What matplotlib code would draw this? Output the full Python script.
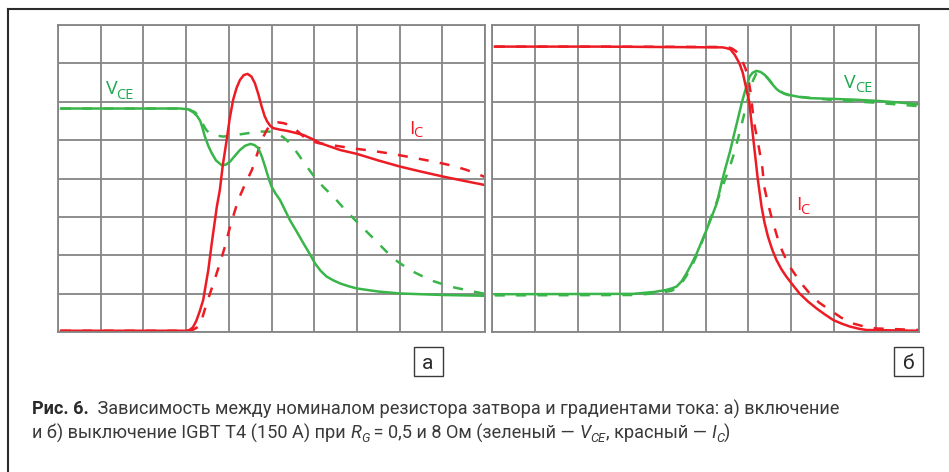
"""Turn-on / turn-off waveforms of IGBT T4 at two gate resistances (Рис. 6)."""

import matplotlib
matplotlib.use("Agg")
import matplotlib.pyplot as plt
from matplotlib.lines import Line2D
from matplotlib.patches import Rectangle

# ---------------------------------------------------------------------------
# Data (grid divisions: x 0..10, y 0..8)
# ---------------------------------------------------------------------------

# а) turn-on
on_ic_x = [0.07, 3.00, 3.08, 3.16, 3.24, 3.32, 3.40, 3.52, 3.60, 3.72, 3.79,
           3.86, 3.95, 4.02, 4.10, 4.18, 4.26, 4.35, 4.44, 4.53, 4.61, 4.69,
           4.77, 4.84, 4.90, 4.97, 5.04, 5.20, 5.36, 5.55, 5.75, 5.95, 6.14,
           6.61, 7.00, 7.50, 8.01, 8.50, 9.02, 9.50, 10.0]
on_ic_y = [0.04, 0.04, 0.06, 0.13, 0.30, 0.55, 0.84, 1.62, 2.31, 3.27, 3.70,
           4.35, 5.00, 5.55, 6.04, 6.35, 6.56, 6.69, 6.72, 6.65, 6.48, 6.20,
           5.87, 5.62, 5.48, 5.37, 5.31, 5.27, 5.24, 5.19, 5.13, 5.03, 4.92,
           4.74, 4.64, 4.47, 4.31, 4.18, 4.05, 3.94, 3.83]

on_ic_slow_x = [0.07, 3.05, 3.15, 3.25, 3.33, 3.48, 3.64, 3.79, 3.91, 4.03,
                4.22, 4.38, 4.54, 4.66, 4.77, 4.87, 4.96, 5.05, 5.15, 5.28,
                5.40, 5.52, 5.62, 5.72, 5.82, 5.95, 6.10, 6.40, 6.69, 7.00,
                7.36, 7.83, 8.37, 8.84, 9.25, 9.55, 9.77, 10.0]
on_ic_slow_y = [0.04, 0.04, 0.06, 0.12, 0.19, 0.75, 1.27, 1.79, 2.23, 2.75,
                3.44, 3.85, 4.22, 4.62, 5.00, 5.22, 5.39, 5.45, 5.46, 5.44,
                5.40, 5.32, 5.22, 5.12, 5.03, 4.97, 4.92, 4.87, 4.82, 4.77,
                4.72, 4.64, 4.53, 4.43, 4.33, 4.23, 4.14, 4.04]

on_vce_x = [0.07, 2.86, 3.05, 3.17, 3.26, 3.33, 3.38, 3.44, 3.52, 3.60, 3.70,
            3.83, 3.93, 4.03, 4.15, 4.26, 4.38, 4.51, 4.60, 4.69, 4.77, 4.85,
            4.92, 5.00, 5.10, 5.20, 5.32, 5.43, 5.60, 5.75, 5.90, 6.02, 6.15,
            6.29, 6.45, 6.61, 6.80, 7.00, 7.50, 8.01, 9.02, 10.0]
on_vce_y = [5.82, 5.82, 5.80, 5.72, 5.62, 5.50, 5.33, 5.09, 4.85, 4.66, 4.47,
            4.35, 4.36, 4.44, 4.60, 4.74, 4.85, 4.90, 4.87, 4.79, 4.58, 4.31,
            4.05, 3.79, 3.60, 3.44, 3.17, 2.92, 2.60, 2.31, 2.03, 1.79, 1.60,
            1.45, 1.35, 1.27, 1.20, 1.14, 1.06, 1.01, 0.97, 0.95]

on_vce_slow_x = [0.07, 2.86, 3.05, 3.20, 3.28, 3.35, 3.46, 3.55, 3.64, 3.87,
                 4.15, 4.46, 4.74, 4.95, 5.12, 5.28, 5.43, 5.58, 5.74, 5.90,
                 6.06, 6.25, 6.45, 6.76, 7.11, 7.46, 7.85, 8.24, 8.71, 9.18,
                 9.73, 10.0]
on_vce_slow_y = [5.82, 5.82, 5.80, 5.73, 5.64, 5.50, 5.28, 5.17, 5.13, 5.09,
                 5.13, 5.18, 5.22, 5.22, 5.18, 5.07, 4.92, 4.70, 4.45, 4.20,
                 3.96, 3.74, 3.53, 3.14, 2.75, 2.36, 1.92, 1.62, 1.36, 1.19,
                 1.06, 1.00]

# б) turn-off
off_ic_x = [0.06, 2.52, 5.40, 5.49, 5.58, 5.68, 5.75, 5.80, 5.87, 5.92, 5.97,
            6.02, 6.12, 6.22, 6.31, 6.38, 6.46, 6.56, 6.66, 6.77, 6.89, 7.05,
            7.20, 7.40, 7.60, 7.80, 7.99, 8.20, 8.38, 8.60, 8.77, 10.0]
off_ic_y = [7.43, 7.43, 7.41, 7.39, 7.36, 7.22, 7.08, 6.97, 6.75, 6.50, 6.25,
            6.00, 5.00, 4.00, 3.27, 2.85, 2.49, 2.15, 1.88, 1.65, 1.45, 1.22,
            1.01, 0.80, 0.62, 0.46, 0.32, 0.22, 0.15, 0.09, 0.06, 0.04]

off_ic_slow_x = [0.06, 2.52, 5.49, 5.60, 5.66, 5.72, 5.78, 5.86, 5.93, 6.00,
                 6.05, 6.13, 6.25, 6.33, 6.37, 6.45, 6.54, 6.62, 6.70, 6.79,
                 6.89, 7.00, 7.13, 7.28, 7.44, 7.65, 7.91, 8.18, 8.45, 8.72,
                 9.00, 10.0]
off_ic_slow_y = [7.43, 7.43, 7.42, 7.39, 7.35, 7.30, 7.22, 7.05, 6.87, 6.60,
                 6.26, 5.48, 4.79, 4.27, 3.80, 3.40, 3.01, 2.70, 2.40, 2.13,
                 1.88, 1.66, 1.45, 1.22, 1.01, 0.78, 0.58, 0.38, 0.23, 0.15,
                 0.10, 0.06]

off_vce_x = [0.06, 3.30, 3.80, 4.07, 4.20, 4.32, 4.44, 4.55, 4.67, 4.79, 4.90,
             5.02, 5.14, 5.26, 5.38, 5.47, 5.57, 5.66, 5.76, 5.84, 5.92, 6.03,
             6.10, 6.19, 6.29, 6.39, 6.48, 6.58, 6.66, 6.74, 6.85, 6.97, 7.20,
             7.44, 7.99, 8.50, 9.00, 9.50, 10.0]
off_vce_y = [0.99, 1.00, 1.05, 1.10, 1.14, 1.19, 1.33, 1.53, 1.78, 2.05, 2.34,
             2.66, 3.00, 3.35, 3.92, 4.30, 4.70, 5.12, 5.57, 5.94, 6.26, 6.65,
             6.75, 6.80, 6.77, 6.69, 6.57, 6.43, 6.33, 6.26, 6.21, 6.17, 6.12,
             6.09, 6.07, 6.05, 6.02, 5.98, 5.93]

off_vce_slow_x = [0.06, 3.30, 3.90, 4.20, 4.32, 4.43, 4.55, 4.67, 4.79, 4.90,
                  5.02, 5.13, 5.29, 5.45, 5.57, 5.68, 5.78, 5.88, 5.96, 6.03,
                  6.11, 6.19, 6.30, 6.45, 6.58, 6.70, 6.85, 7.00, 7.50, 8.00,
                  9.00, 10.0]
off_vce_slow_y = [0.96, 0.97, 1.02, 1.08, 1.15, 1.27, 1.47, 1.71, 2.00, 2.31,
                  2.66, 3.01, 3.48, 3.96, 4.32, 4.70, 5.13, 5.57, 5.93, 6.26,
                  6.55, 6.74, 6.78, 6.62, 6.44, 6.30, 6.20, 6.15, 6.09, 6.04,
                  5.97, 5.88]

# ---------------------------------------------------------------------------
# Style
# ---------------------------------------------------------------------------

W, H = 949, 472
RED = "#ed1c24"
GREEN = "#39b54a"
LABEL_GREEN = "#1fa84f"
GRID = "#858585"
TEXT = "#3a3a3a"
CAPTION_FONT = ["Roboto", "DejaVu Sans"]
LABEL_FONT = ["Open Sans", "DejaVu Sans"]
DASH = (0, (4, 4.5))


def fx(px):
    return px / W


def fy(py):
    return 1 - py / H


def panel(fig, left_px, top_px, right_px, bottom_px):
    ax = fig.add_axes([fx(left_px), fy(bottom_px),
                       (right_px - left_px) / W, (bottom_px - top_px) / H])
    ax.set_xlim(0, 10)
    ax.set_ylim(0, 8)
    ax.set_xticks(range(11))
    ax.set_yticks(range(9))
    ax.tick_params(length=0, labelbottom=False, labelleft=False)
    ax.grid(True, color=GRID, linewidth=1.3)
    for sp in ax.spines.values():
        sp.set_color(GRID)
        sp.set_linewidth(1.3)
    return ax


def text_width(fig, renderer, s, **kw):
    # measure with bars around so leading/trailing spaces count
    t1 = fig.text(0, 0, "|" + s + "|", **kw)
    t2 = fig.text(0, 0, "||", **kw)
    w = t1.get_window_extent(renderer).width - t2.get_window_extent(renderer).width
    t1.remove()
    t2.remove()
    return w


def draw_runs(fig, renderer, x_px, y_px, runs):
    x = x_px
    for s, kw, dy in runs:
        fig.text(fx(x), fy(y_px + dy), s, ha="left", va="baseline", **kw)
        x += text_width(fig, renderer, s, **kw)


def main() -> None:
    fig = plt.figure(figsize=(W / 100, H / 100), dpi=100)

    ax_on = panel(fig, 58, 24.7, 485, 332.3)
    ax_off = panel(fig, 492.3, 24.7, 919, 332.3)

    lw = 1.8
    ax_on.plot(on_vce_slow_x, on_vce_slow_y, color=GREEN, lw=lw, ls=DASH)
    ax_on.plot(on_ic_slow_x, on_ic_slow_y, color=RED, lw=lw, ls=DASH)
    ax_on.plot(on_vce_x, on_vce_y, color=GREEN, lw=lw)
    ax_on.plot(on_ic_x, on_ic_y, color=RED, lw=lw)

    ax_off.plot(off_vce_slow_x, off_vce_slow_y, color=GREEN, lw=lw, ls=DASH)
    ax_off.plot(off_ic_slow_x, off_ic_slow_y, color=RED, lw=lw, ls=DASH)
    ax_off.plot(off_vce_x, off_vce_y, color=GREEN, lw=lw)
    ax_off.plot(off_ic_x, off_ic_y, color=RED, lw=lw)

    # curve labels
    def sub_label(x_main, y_main, main, x_sub, y_sub, sub, color):
        fig.text(fx(x_main), fy(y_main), main, color=color, family=LABEL_FONT,
                 fontsize=14, ha="left", va="baseline")
        fig.text(fx(x_sub), fy(y_sub), sub, color=color, family=LABEL_FONT,
                 fontsize=10.5, ha="left", va="baseline")

    sub_label(105.5, 94, "V", 116.5, 99, "CE", LABEL_GREEN)
    sub_label(844.5, 88, "V", 855.5, 92, "CE", LABEL_GREEN)
    sub_label(409, 133.5, "I", 413.5, 137, "C", RED)
    sub_label(796.5, 209.5, "I", 800.5, 214, "C", RED)

    # panel tags
    for x0, tag in ((413.5, "а"), (894, "б")):
        fig.add_artist(Rectangle((fx(x0), fy(376)), 29 / W, 29 / H,
                                 transform=fig.transFigure, fill=False,
                                 ec="#3a3a3a", lw=1.0))
        fig.text(fx(x0 + 14.5), fy(361.5), tag, family=CAPTION_FONT,
                 fontsize=15, color="#2a2a2a", ha="center", va="center_baseline")

    # outer frame (partly cropped)
    fig.add_artist(Line2D([fx(7.5), 1.0], [fy(9), fy(9)],
                          transform=fig.transFigure, color="#2b2b2b", lw=1.5))
    fig.add_artist(Line2D([fx(7.5), fx(7.5)], [0.0, fy(9)],
                          transform=fig.transFigure, color="#2b2b2b", lw=1.5))

    # caption
    renderer = fig.canvas.get_renderer()
    fs = 13.1
    reg = dict(family=CAPTION_FONT, fontsize=fs, color=TEXT)
    bold = dict(family=CAPTION_FONT, fontsize=fs, color="#2a2a2a", weight="bold")
    ital = dict(family=CAPTION_FONT, fontsize=fs, color=TEXT, style="italic")
    isub = dict(family=CAPTION_FONT, fontsize=fs * 0.7, color=TEXT, style="italic")

    draw_runs(fig, renderer, 32, 414.5, [
        ("Рис. 6. ", bold, 0),
        (" Зависимость между номиналом резистора затвора и градиентами тока: а) включение", reg, 0),
    ])
    draw_runs(fig, renderer, 32, 438.5, [
        ("и б) выключение IGBT T4 (150 А) при ", reg, 0),
        ("R", ital, 0),
        ("G", isub, 3.5),
        (" = 0,5 и 8 Ом (зеленый — ", reg, 0),
        ("V", ital, 0),
        ("CE", isub, 3.5),
        (", красный — ", reg, 0),
        ("I", ital, 0),
        ("C", isub, 3.5),
        (")", reg, 0),
    ])

    fig.savefig("out.png", dpi=100)
    plt.close(fig)


if __name__ == "__main__":
    main()
